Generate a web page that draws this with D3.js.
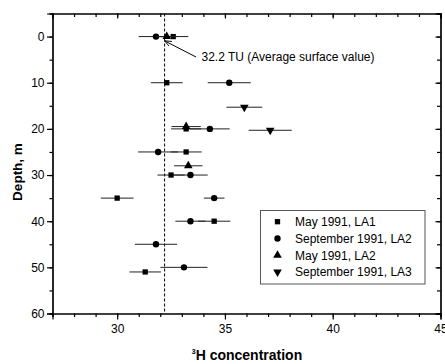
<!DOCTYPE html>
<html><head><meta charset="utf-8">
<script src="https://cdn.jsdelivr.net/npm/d3@7"></script>
<style>body{margin:0;background:#fff}svg{display:block}text{font-family:"Liberation Sans",Arial,sans-serif}</style>
</head><body>
<svg id="c" width="445" height="364"></svg>
<script>
// Data
const seriesNames = ["May 1991, LA1", "September 1991, LA2", "May 1991, LA2", "September 1991, LA3"];
const seriesSymbols = ["square", "circle", "triangle", "down"];

const la1MayX     = [32.6, 32.3, 33.2, 33.2, 32.5, 30.0, 34.5, 31.3];
const la1MayDepth = [0, 10, 20, 25, 30, 35, 40, 51];
const la1MayErr   = [0.7, 0.74, 0.7, 0.72, 0.63, 0.76, 0.75, 0.73];

const la2SepX     = [31.8, 35.2, 34.3, 31.9, 33.4, 34.5, 33.4, 31.8, 33.1];
const la2SepDepth = [0, 10, 20, 25, 30, 35, 40, 45, 50];
const la2SepErr   = [0.8, 1.0, 0.92, 0.93, 0.8, 0.48, 0.7, 0.98, 1.09];

const la2MayX     = [32.3, 33.2, 33.3];
const la2MayDepth = [0, 19.5, 28];
const la2MayErr   = [0.5, 0.68, 0.66];

const la3SepX     = [35.9, 37.1];
const la3SepDepth = [15.3, 20.3];
const la3SepErr   = [0.83, 1.0];

const xTicks = [30, 35, 40, 45];
const yTicks = [0, 10, 20, 30, 40, 50, 60];
const surfaceValue = 32.2;
const annotationText = "32.2 TU (Average surface value)";
const xTitle = "H concentration";
const yTitle = "Depth, m";

const series = [
  {x: la1MayX, d: la1MayDepth, e: la1MayErr},
  {x: la2SepX, d: la2SepDepth, e: la2SepErr},
  {x: la2MayX, d: la2MayDepth, e: la2MayErr},
  {x: la3SepX, d: la3SepDepth, e: la3SepErr}
].map((s, i) => ({name: seriesNames[i], sym: seriesSymbols[i],
  pts: s.x.map((v, j) => ({x: v, d: s.d[j], e: s.e[j]}))}));

const svg = d3.select("#c");
const L = 52.5, R = 440.5, T = 13.5, B = 313.5;
const x = d3.scaleLinear().domain([27, 45]).range([L, R]);
const y = d3.scaleLinear().domain([-5, 60]).range([T, B]);

const symMap = {
  square: d3.symbol().type(d3.symbolSquare).size(28),
  circle: d3.symbol().type(d3.symbolCircle).size(32),
  triangle: d3.symbol().type(d3.symbolTriangle).size(32),
  down: d3.symbol().type(d3.symbolTriangle).size(32)
};
function drawSym(g, sym) {
  const p = g.append("path").attr("d", symMap[sym]()).attr("fill", "#000");
  if (sym === "down") p.attr("transform", "rotate(180)");
  return p;
}

// minor ticks
const xMinor = d3.range(27, 45.01, 1);
const yMinor = d3.range(-5, 60.01, 5);
function axisStyle(g) {
  g.selectAll("path.domain").attr("stroke", "#000").attr("stroke-width", 1.2);
  g.selectAll("line").attr("stroke", "#000").attr("stroke-width", 1.2);
  g.selectAll("text").attr("font-size", 12).attr("fill", "#000");
}
svg.append("g").attr("transform", `translate(0,${B})`)
  .call(d3.axisBottom(x).tickValues(xMinor).tickSize(3.5).tickFormat("")).call(axisStyle);
svg.append("g").attr("transform", `translate(0,${B})`)
  .call(d3.axisBottom(x).tickValues(xTicks).tickSize(6).tickPadding(4.5).tickFormat(d3.format("d"))).call(axisStyle);
svg.append("g").attr("transform", `translate(0,${T})`)
  .call(d3.axisBottom(x).tickValues(xMinor).tickSize(3.5).tickFormat("")).call(axisStyle);
svg.append("g").attr("transform", `translate(0,${T})`)
  .call(d3.axisBottom(x).tickValues(xTicks).tickSize(5).tickFormat("")).call(axisStyle);
svg.append("g").attr("transform", `translate(${L},0)`)
  .call(d3.axisLeft(y).tickValues(yMinor).tickSize(3).tickFormat("")).call(axisStyle);
svg.append("g").attr("transform", `translate(${L},0)`)
  .call(d3.axisLeft(y).tickValues(yTicks).tickSize(5.5).tickPadding(2.5).tickFormat(d3.format("d"))).call(axisStyle);
svg.append("g").attr("transform", `translate(${R},0)`)
  .call(d3.axisLeft(y).tickValues(yMinor).tickSize(3.5).tickFormat("")).call(axisStyle);
svg.append("g").attr("transform", `translate(${R},0)`)
  .call(d3.axisLeft(y).tickValues(yTicks).tickSize(5).tickFormat("")).call(axisStyle);

// dashed reference line
svg.append("line").attr("x1", x(surfaceValue)).attr("x2", x(surfaceValue))
  .attr("y1", T).attr("y2", B).attr("stroke", "#000").attr("stroke-width", 1)
  .attr("stroke-dasharray", "3,2");

// error bars & points
series.forEach(s => {
  const g = svg.append("g");
  g.selectAll("line.err").data(s.pts).join("line").attr("class", "err")
    .attr("x1", d => x(d.x - d.e)).attr("x2", d => x(d.x + d.e))
    .attr("y1", d => y(d.d)).attr("y2", d => y(d.d))
    .attr("stroke", "#222").attr("stroke-width", 1);
  s.pts.forEach(p => {
    const pg = g.append("g").attr("transform", `translate(${x(p.x)},${y(p.d)})`);
    drawSym(pg, s.sym);
  });
});

// annotation
svg.append("defs").append("marker").attr("id", "ah").attr("viewBox", "0 0 10 10")
  .attr("refX", 9).attr("refY", 5).attr("markerWidth", 7).attr("markerHeight", 7)
  .attr("orient", "auto").append("path").attr("d", "M0,1 L10,5 L0,9").attr("fill", "none")
  .attr("stroke", "#000").attr("stroke-width", 1.2);
svg.append("line").attr("x1", 196).attr("y1", 57).attr("x2", x(surfaceValue) + 0.5).attr("y2", y(0) + 4.5)
  .attr("stroke", "#000").attr("stroke-width", 1).attr("marker-end", "url(#ah)");
svg.append("text").attr("x", 201.5).attr("y", 60.5).attr("font-size", 12).text(annotationText);

// legend
const lg = svg.append("g");
lg.append("rect").attr("x", 260.5).attr("y", 210.5).attr("width", 164.5).attr("height", 73.5)
  .attr("fill", "#fff").attr("stroke", "#555").attr("stroke-width", 1);
series.forEach((s, i) => {
  const yy = 221.7 + i * 16.8;
  const pg = lg.append("g").attr("transform", `translate(277.5,${yy})`);
  drawSym(pg, s.sym);
  lg.append("text").attr("x", 295).attr("y", yy + 4.3).attr("font-size", 12).text(s.name);
});

// axis titles
const xt = svg.append("text").attr("x", 247).attr("y", 360).attr("text-anchor", "middle")
  .attr("font-size", 14).attr("font-weight", "bold");
xt.append("tspan").attr("font-size", 7).attr("dy", -6).text("3");
xt.append("tspan").attr("dy", 6).text(xTitle);
svg.append("text").attr("transform", "translate(22,172) rotate(-90)").attr("text-anchor", "middle")
  .attr("font-size", 13.5).attr("font-weight", "bold").text(yTitle);
</script>
</body></html>
